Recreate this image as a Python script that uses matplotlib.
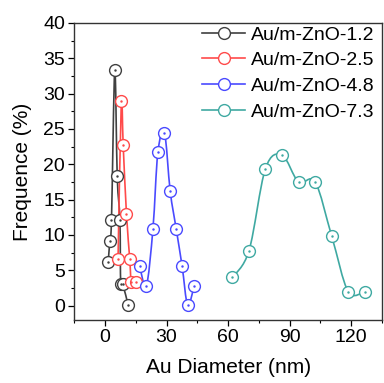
import numpy as np
import matplotlib
matplotlib.use('Agg')
import matplotlib.pyplot as plt
from matplotlib.path import Path
from matplotlib.patches import PathPatch
from matplotlib.lines import Line2D
from matplotlib.ticker import MultipleLocator

plt.rcParams['font.family'] = ['Liberation Sans', 'DejaVu Sans']

# Au particle size distributions
x_12 = [1.6, 2.4, 3.2, 4.8, 6.0, 7.3, 7.7, 8.7, 11.3]
y_12 = [6.2, 9.2, 12.1, 33.4, 18.3, 12.1, 3.0, 3.0, 0.1]

x_25 = [6.4, 8.0, 8.9, 10.5, 12.1, 12.9, 15.0]
y_25 = [6.6, 29.0, 22.7, 13.0, 6.6, 3.3, 3.3]

x_48 = [16.9, 20.2, 23.4, 25.8, 29.0, 31.8, 34.7, 37.6, 40.3, 43.5]
y_48 = [5.6, 2.8, 10.9, 21.7, 24.5, 16.2, 10.9, 5.6, 0.1, 2.8]

x_73 = [62.1, 70.2, 78.2, 86.3, 94.3, 102.4, 110.5, 118.5, 126.6]
y_73 = [4.0, 7.8, 19.4, 21.3, 17.5, 17.5, 9.8, 2.0, 2.0]

labels = ['Au/m-ZnO-1.2', 'Au/m-ZnO-2.5', 'Au/m-ZnO-4.8', 'Au/m-ZnO-7.3']
colors = ['#404040', '#ff4a4a', '#4a4aff', '#3fa9a2']
series = [(x_12, y_12), (x_25, y_25), (x_48, y_48), (x_73, y_73)]


def spline_path(x, y):
    # smooth connecting curve (Catmull-Rom as cubic Bezier segments)
    p = np.column_stack([x, y]).astype(float)
    p = np.vstack([p[0], p, p[-1]])
    verts = [p[1]]
    codes = [Path.MOVETO]
    for i in range(1, len(p) - 2):
        c1 = p[i] + (p[i + 1] - p[i - 1]) / 6.0
        c2 = p[i + 1] - (p[i + 2] - p[i]) / 6.0
        verts += [c1, c2, p[i + 1]]
        codes += [Path.CURVE4] * 3
    return Path(verts, codes)


fig = plt.figure(figsize=(3.84, 3.83), dpi=100)
ax = fig.add_axes([0.193, 0.165, 0.802, 0.775])

handles = []
for (xs, ys), c, lab in zip(series, colors, labels):
    ax.add_patch(PathPatch(spline_path(xs, ys), facecolor='none',
                           edgecolor=c, lw=1.2, zorder=2))
    ax.plot(xs, ys, 'o', ms=8.5, mfc='white', mec=c, mew=1.0, zorder=3)
    ax.plot(xs, ys, '.', ms=1.5, color=c, zorder=4)
    handles.append(Line2D([], [], color=c, lw=1.2, marker='o', ms=8.5,
                          mfc='white', mec=c, mew=1.0))

ax.set_xlim(-15, 135)
ax.set_ylim(-2, 40)
ax.xaxis.set_major_locator(MultipleLocator(30))
ax.xaxis.set_minor_locator(MultipleLocator(15))
ax.yaxis.set_major_locator(MultipleLocator(5))
ax.yaxis.set_minor_locator(MultipleLocator(2.5))
ax.tick_params(which='major', direction='out', length=4.5, width=0.9,
               labelsize=14, pad=2)
ax.tick_params(which='minor', direction='out', length=2.5, width=0.8)
for s in ax.spines.values():
    s.set_linewidth(1.0)
    s.set_color('#333333')

ax.set_xlabel('Au Diameter (nm)', fontsize=15, labelpad=9)
ax.set_ylabel('Frequence (%)', fontsize=15, labelpad=8)

ax.legend(handles, labels, loc='upper right', bbox_to_anchor=(0.985, 1.0),
          frameon=False, fontsize=14,
          handlelength=2.2, handletextpad=0.3, labelspacing=0.42,
          borderaxespad=0.05, borderpad=0.1)

fig.savefig('out.png', dpi=100)
